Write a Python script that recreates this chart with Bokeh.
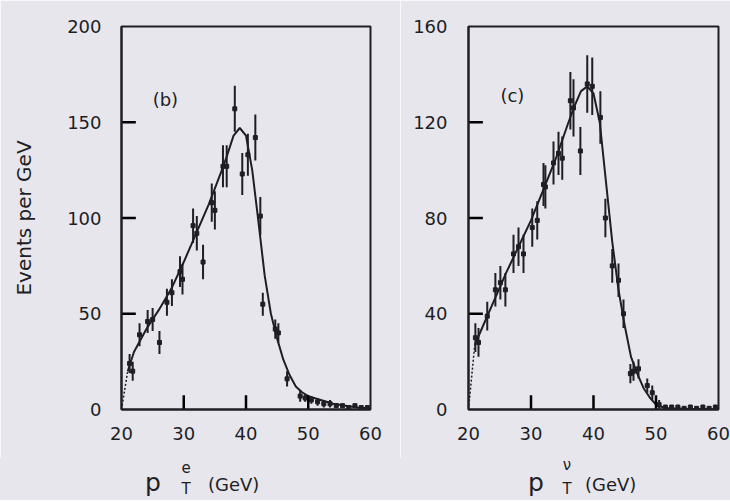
from bokeh.plotting import figure
from bokeh.layouts import row, column
from bokeh.models import Label, FixedTicker, Div
from bokeh.embed import file_html
from bokeh.resources import INLINE

# ---------------- data: panel (b) electron pT ----------------
b_x = [21.3, 21.8, 22.9, 24.2, 25.0, 26.1, 27.3, 28.1, 29.4, 29.8, 31.5, 32.1, 33.1,
       34.5, 35.0, 36.3, 36.9, 38.2, 39.4, 40.3, 41.5, 42.3, 42.7, 44.7, 45.2, 46.6,
       48.7, 49.5, 50.5, 51.5, 52.5, 53.5, 54.5, 55.5, 56.5, 57.5, 58.5, 59.5]
b_y = [24, 20, 39, 46, 47, 35, 56, 61, 72, 68, 96, 92, 77,
       108, 104, 127, 127, 157, 123, 133, 142, 101, 55, 42, 40, 16,
       7, 6, 5, 4, 3, 3, 2, 2, 1, 2, 1, 1]
b_err = [5, 5, 6, 6, 6, 6, 7, 7, 8, 8, 9, 9, 9,
         10, 10, 11, 11, 12, 11, 11, 12, 10, 6, 5, 5, 4,
         3, 2, 2, 2, 2, 2, 1, 1, 1, 1, 1, 1]
b_curve_x = [21, 22, 24, 26, 28, 30, 32, 34, 36, 37, 38, 39, 40, 41, 42, 43, 44, 45,
             46, 47, 48, 49, 50, 52, 54, 56, 58, 60]
b_curve_y = [20, 30, 42, 52, 63, 77, 92, 107, 124, 133, 143, 147, 143, 125, 98, 70, 50, 37,
             26, 18, 12, 9, 7, 5, 3, 2, 1, 0.5]

# ---------------- data: panel (c) neutrino pT ----------------
c_x = [21.1, 21.6, 23.0, 24.3, 25.1, 25.9, 27.2, 28.0, 28.8, 30.2, 31.0, 32.0, 32.3,
       33.6, 34.4, 35.0, 36.3, 36.8, 37.9, 39.0, 39.8, 41.1, 41.9, 43.0, 44.0, 44.8,
       45.9, 46.4, 47.2, 48.6, 49.4, 50.5, 51.5, 52.5, 53.5, 54.5, 55.5, 56.5, 57.5,
       58.5, 59.5]
c_y = [30, 28, 39, 50, 53, 50, 65, 68, 65, 76, 79, 94, 93,
       103, 107, 105, 129, 126, 108, 136, 135, 122, 80, 60, 54, 40,
       15, 16, 17, 10, 7, 2, 1, 1, 1, 0.5, 1, 0.5, 1, 0.5, 1]
c_err = [6, 6, 6, 7, 7, 7, 8, 8, 8, 8, 8, 9, 9,
         9, 9, 9, 12, 12, 10, 12, 12, 11, 8, 7, 7, 6,
         4, 4, 4, 3, 3, 2, 1, 1, 1, 1, 1, 1, 1, 1, 1]
c_curve_x = [21, 22, 24, 26, 28, 30, 32, 34, 36, 37, 38, 39, 40, 41, 42, 43, 44, 45,
             46, 47, 48, 49, 50, 51, 52, 55, 60]
c_curve_y = [27, 33, 45, 57, 68, 79, 92, 105, 120, 127, 133, 135, 132, 120, 95, 70, 50, 35,
             22, 15, 9, 5, 2, 1, 0.5, 0.3, 0]

x_ticks = [20, 30, 40, 50, 60]
b_ticks = [0, 50, 100, 150, 200]
c_ticks = [0, 40, 80, 120, 160]

BG = "#e6e6ec"
INK = "#1e1e24"
FONT = "DejaVu Sans"


def panel(w, h, bl, br, bt, bb, ymax, yticks):
    p = figure(width=w, height=h, x_range=(20, 60), y_range=(0, ymax),
               output_backend="svg", toolbar_location=None,
               min_border_left=bl, min_border_right=br,
               min_border_top=bt, min_border_bottom=bb,
               background_fill_color=BG, border_fill_color=BG)
    p.grid.visible = False
    p.outline_line_color = INK
    p.outline_line_width = 2
    for ax in (p.xaxis[0], p.yaxis[0]):
        ax.axis_line_color = INK
        ax.axis_line_width = 2
        ax.major_tick_in = 0
        ax.major_tick_out = 0
        ax.minor_tick_line_color = None
        ax.major_label_text_font = FONT
        ax.major_label_text_font_size = "18px"
        ax.major_label_text_color = INK
    p.xaxis.ticker = FixedTicker(ticks=x_ticks)
    p.yaxis.ticker = FixedTicker(ticks=yticks)
    return p


def inner_ticks(p, yticks, xlen, ylen):
    # inward tick marks at the interior tick values (built from the tick lists)
    xt = [float(t) for t in x_ticks[1:-1]]
    yt = [float(t) for t in yticks[1:-1]]
    p.segment(x0=xt, y0=[0.0] * len(xt), x1=list(xt), y1=[float(xlen)] * len(xt),
              line_color="#000000", line_width=2.5)
    p.segment(x0=[20.0] * len(yt), y0=yt, x1=[20.0 + ylen] * len(yt), y1=list(yt),
              line_color="#000000", line_width=2.5)


def draw(p, xs, ys, es, cx, cy):
    # smooth theory curve, dotted near the threshold
    p.line([20, cx[0]], [0, cy[0]], line_color=INK, line_width=1.5, line_dash="2 2")
    p.line(cx, cy, line_color=INK, line_width=2)
    p.segment(x0=xs, y0=[y - e for y, e in zip(ys, es)],
              x1=xs, y1=[y + e for y, e in zip(ys, es)],
              line_color=INK, line_width=2)
    p.segment(x0=[x - 0.25 for x in xs], y0=ys, x1=[x + 0.25 for x in xs], y1=ys,
              line_color=INK, line_width=2)
    p.scatter(xs, ys, marker="square", size=4, color=INK)


def lab(p, x, y, text, size, **kw):
    p.add_layout(Label(x=x, y=y, text=text, text_font=FONT, text_font_size=size,
                       text_color=INK, **kw))


def xlabel_div(width, p_left, sup, sup_center, sup_top, gev_left):
    span = "position:absolute;line-height:1;white-space:nowrap;"
    html = (
        f'<div style="position:relative;width:{width}px;height:42px;'
        f'background:{BG};color:{INK};font-family:\'{FONT}\';">'
        f'<span style="{span}left:{p_left}px;top:12px;font-size:25px;">p</span>'
        f'<span style="{span}left:{sup_center - 10}px;width:20px;text-align:center;'
        f'top:{sup_top}px;font-size:15px;">{sup}</span>'
        f'<span style="{span}left:{sup_center - 10}px;width:20px;text-align:center;'
        f'top:24px;font-size:15px;">T</span>'
        f'<span style="{span}left:{gev_left}px;top:18px;font-size:18px;">(GeV)</span>'
        '</div>'
    )
    return Div(text=html, width=width, height=42, margin=(0, 0, 0, 0),
               styles={"background-color": BG})


# left panel (b)
p1 = panel(400, 458, 121, 30, 21, 49, 200, b_ticks)
p1.yaxis.major_label_standoff = 20
p1.xaxis.major_label_standoff = 17
p1.yaxis.axis_label = "Events per GeV"
p1.yaxis.axis_label_text_font = FONT
p1.yaxis.axis_label_text_font_size = "20px"
p1.yaxis.axis_label_text_font_style = "normal"
p1.yaxis.axis_label_text_color = INK
p1.yaxis.axis_label_standoff = 28
draw(p1, b_x, b_y, b_err, b_curve_x, b_curve_y)
inner_ticks(p1, b_ticks, 7.5, 2.3)
lab(p1, 25.0, 162, "(b)", "18px", text_baseline="middle")

# right panel (c)
p2 = panel(330, 458, 68, 12, 26, 45, 160, c_ticks)
p2.yaxis.major_label_standoff = 21
p2.xaxis.major_label_standoff = 17
draw(p2, c_x, c_y, c_err, c_curve_x, c_curve_y)
inner_ticks(p2, c_ticks, 6.0, 2.3)
lab(p2, 25.1, 131, "(c)", "18px", text_baseline="middle")

d1 = xlabel_div(400, 145, "e", 186, 3, 208)
d2 = xlabel_div(330, 128, "ν", 167, 0, 185)

layout = column(row(p1, p2, spacing=0), row(d1, d2, spacing=0), spacing=0)
open("out.html", "w").write(file_html(layout, INLINE))
